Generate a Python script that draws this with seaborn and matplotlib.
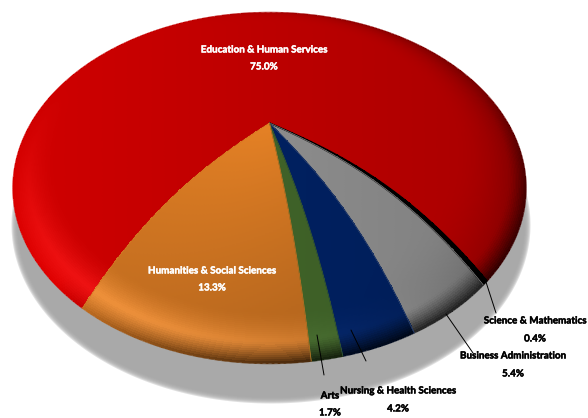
import numpy as np
import matplotlib
matplotlib.use('Agg')
import matplotlib.pyplot as plt
import matplotlib.patheffects as pe
from matplotlib.collections import LineCollection
import seaborn as sns

# share of each college, clockwise on screen starting at the lower left
categories = ['Education & Human Services', 'Science & Mathematics', 'Business Administration',
              'Nursing & Health Sciences', 'Arts', 'Humanities & Social Sciences']
values = [75.0, 0.4, 5.4, 4.2, 1.7, 13.3]
base_colors = ['#bc0000', '#000000', '#8c8c8c', '#002060', '#3f6228', '#e58125']

sns.set_theme(style='white')
plt.rcParams['font.family'] = ['Lato', 'DejaVu Sans']
palette = sns.color_palette(base_colors)

CX, CY, A, B = 269.5, 188.0, 256.5, 175.5
LIFT = 65.0
WARP = 1.19
START = 40.0  # degrees from straight down, where education begins


def warp(theta):
    # perspective squeeze of the angles, front gets larger
    k = np.round(theta / (2 * np.pi))
    rest = theta - 2 * np.pi * k
    return 2 * np.arctan(WARP * np.tan(rest / 2)) + 2 * np.pi * k


def project(r, phi):
    x = CX - A * r * np.sin(phi)
    y = CY + B * r * np.cos(phi) - LIFT * (1 - r ** 2.6)
    return x, y


def shade(color, r, phi, fade):
    # outward direction on screen, x to the right and y downward
    dx, dy = -np.sin(phi), np.cos(phi)
    bevel = np.clip((r - 0.84) / 0.10, 0, 1) ** 1.5
    light = np.clip(-0.55 * dx + 0.83 * dy, 0, 1) ** 1.6
    dark = np.clip(0.55 * dx + 0.83 * dy, 0, 1)
    m = 1 - fade * r
    m = m * (1 - 0.11 * dx * r)
    m = m + 0.10 * bevel * light
    rim = np.clip((r - 0.93) / 0.07, 0, 1) ** 1.4
    m = m * (1 - 0.74 * rim * dark)
    # wide soft darkening on upper right side of the pie
    m = m * (1 - 0.30 * np.clip((r - 0.72) / 0.28, 0, 1) ** 2 * np.clip(dx - 0.35 * dy, 0, 1))
    white = 0.11 * max(color) * bevel * light * (1 - rim)
    rgb = np.stack([color[i] * m + white for i in range(3)], axis=-1)
    return np.clip(rgb, 0, 1)


fig = plt.figure(figsize=(5.88, 4.18), dpi=100)
ax = fig.add_axes([0, 0, 1, 1])
ax.set_xlim(0, 588)
ax.set_ylim(418, 0)
ax.axis('off')

# soft shadow below the pie
t = np.linspace(0, 2 * np.pi, 400)
for d in np.linspace(3, -3, 7):
    ax.fill(271 + (A + d) * np.cos(t), 225 + (B + d) * np.sin(t), color='#a6a6a6', alpha=0.35, lw=0)

# slices
ends = np.cumsum(values) * 3.6
starts = ends - np.array(values) * 3.6
fades = [0.0, 0.0, 0.0, 0.0, 0.0, 0.22]
for i, val in enumerate(values):
    th = np.deg2rad(START + np.linspace(starts[i], ends[i], max(int(val * 16), 10) + 1))
    phi = warp(th)
    r = np.linspace(0, 1, 161)
    rr, pp = np.meshgrid(r, phi, indexing='ij')
    xx, yy = project(rr, pp)
    rc = (rr[:-1, :-1] + rr[1:, 1:]) / 2
    pc = (pp[:-1, :-1] + pp[1:, 1:]) / 2
    ax.pcolormesh(xx, yy, shade(palette[i], rc, pc, fades[i]), shading='flat',
                  edgecolors='none', antialiased=False)

    # smooth outer edge, coloured piece by piece
    pts = np.column_stack([xx[-1], yy[-1]])
    segs = np.stack([pts[:-1], pts[1:]], axis=1)
    ax.add_collection(LineCollection(segs, colors=shade(palette[i], 0.995, pc[-1], fades[i]), linewidths=1.0))

    # smooth side edges, the black sliver needs both to stay unbroken
    for side in (0, -1):
        if i == 0:
            continue
        ax.plot(xx[:, side], yy[:, side], color=shade(palette[i], 0.5, phi[side], fades[i]),
                lw=0.9 if i == 1 else 0.5)

# leader lines
for xs, ys in [((486, 496), (282, 313)), ((446, 473), (314, 353)),
               ((351, 366), (330, 361)), ((317, 324), (335, 375))]:
    ax.plot(xs, ys, color='black', lw=0.7)

label_pos = [(264, 50, 67, 'white'), (535, 321, 339, 'black'), (513, 356, 374, 'black'),
             (398, 391, 409, 'black'), (330, 396, 413, 'black'), (212, 271, 288, 'white')]
for name, val, (x, y1, y2, col) in zip(categories, values, label_pos):
    for s, yy_txt in ((name, y1), ('%.1f%%' % val, y2)):
        txt = ax.text(x, yy_txt, s, color=col, fontsize=7.1, fontweight='bold', ha='center', va='center')
        txt.set_path_effects([pe.withStroke(linewidth=0.3, foreground=col)])

fig.savefig('out.png', dpi=100)
